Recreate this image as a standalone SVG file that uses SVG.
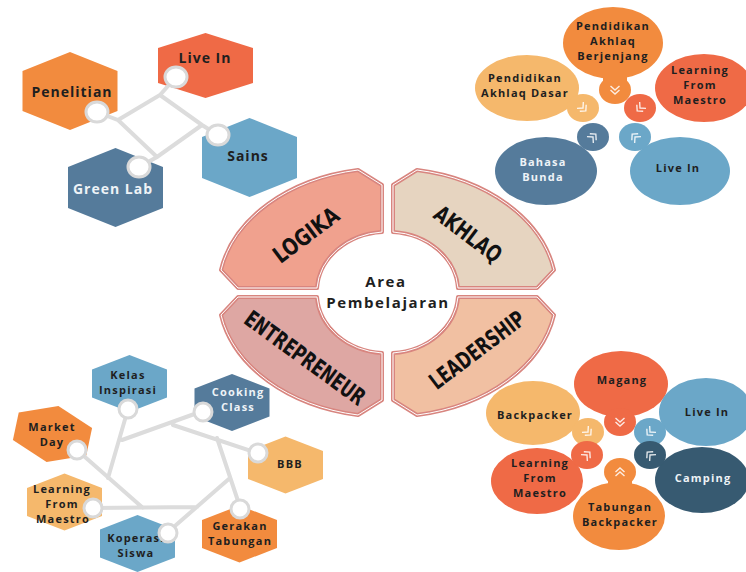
<svg xmlns="http://www.w3.org/2000/svg" width="746" height="572" viewBox="0 0 746 572">
<defs>
<style>
.lbl{font-family:"Open Sans","DejaVu Sans",sans-serif;font-weight:700;font-size:11px;letter-spacing:1.2px;fill:#1f1f1f;text-anchor:middle}
.lg{font-size:14px;letter-spacing:1px}
.w{fill:#EEF3F7}
.seg{stroke:#D8857F;stroke-width:4;stroke-linejoin:round}
.segi{fill:none;stroke:#fff;stroke-width:1;stroke-linejoin:round}
.big{font-family:"DejaVu Sans Condensed","DejaVu Sans",sans-serif;font-weight:700;font-size:23px;fill:#111;text-anchor:middle}
.ctr{font-family:"Open Sans","DejaVu Sans",sans-serif;font-weight:700;font-size:15px;letter-spacing:1.6px;fill:#1f1f1f;text-anchor:middle}
.ln{stroke:#DCDCDC;stroke-width:4;fill:none;stroke-linecap:round}
.ring{fill:#fff;stroke:#D9D9D9;stroke-width:3}
.chev{fill:none;stroke:#fff;stroke-width:1.4;opacity:.85}
.c1{fill:#F28B3E}.c2{fill:#EF6A46}.c3{fill:#F5B86C}.c4{fill:#6BA7C8}.c5{fill:#557B9B}.c6{fill:#375A71}
</style>
<path id="chv" d="M-4.5,-4 L0,0 L4.5,-4 M-4.5,0 L0,4 L4.5,0"/>
</defs>
<rect width="746" height="572" fill="#fff"/>

<!-- Top-left hex cluster -->
<g id="tl-penelitian"><polygon class="c1" points="70,52 117.5,71 117.5,111 70,130 22.5,111 22.5,71"/><text class="lbl lg" x="72" y="97">Penelitian</text></g>
<g id="tl-livein"><polygon class="c2" points="205.5,33 253,48 253,83 205.5,98 158,83 158,48"/><text class="lbl lg" x="205" y="63">Live In</text></g>
<g id="tl-sains"><polygon class="c4" points="249.5,118 297,137 297,178 249.5,197 202,178 202,137"/><text class="lbl lg" x="248" y="161">Sains</text></g>
<g id="tl-greenlab"><polygon class="c5" points="115.5,148 163,167 163,208 115.5,227 68,208 68,167"/><text class="lbl lg w" x="113" y="194">Green Lab</text></g>

<!-- Center -->
<g id="seg-logika">
<path class="seg" fill="#F0A18E" d="M238,288 L221,270 A168 123 0 0 1 358,170 L382,185 L382,232 A70 60 0 0 0 317,288 Z"/>
<path class="segi" d="M238,288 L221,270 A168 123 0 0 1 358,170 L382,185 L382,232 A70 60 0 0 0 317,288 Z"/>
<text class="big" transform="translate(306,235) rotate(-37)" y="8" textLength="76" lengthAdjust="spacingAndGlyphs">LOGIKA</text>
</g>
<g id="seg-akhlaq">
<path class="seg" fill="#E6D4C0" d="M537,288 L554,270 A168 123 0 0 0 417,170 L393,185 L393,232 A70 60 0 0 1 458,288 Z"/>
<path class="segi" d="M537,288 L554,270 A168 123 0 0 0 417,170 L393,185 L393,232 A70 60 0 0 1 458,288 Z"/>
<text class="big" transform="translate(468,234) rotate(37)" y="8" textLength="78" lengthAdjust="spacingAndGlyphs">AKHLAQ</text>
</g>
<g id="seg-entrepreneur">
<path class="seg" fill="#DEA7A3" d="M238,297 L221,315 A168 123 0 0 0 358,415 L382,400 L382,353 A70 60 0 0 1 317,297 Z"/>
<path class="segi" d="M238,297 L221,315 A168 123 0 0 0 358,415 L382,400 L382,353 A70 60 0 0 1 317,297 Z"/>
<text class="big" transform="translate(305,358) rotate(36)" y="8" textLength="143" lengthAdjust="spacingAndGlyphs">ENTREPRENEUR</text>
</g>
<g id="seg-leadership">
<path class="seg" fill="#F1C0A2" d="M537,297 L554,315 A168 123 0 0 1 417,415 L393,400 L393,353 A70 60 0 0 0 458,297 Z"/>
<path class="segi" d="M537,297 L554,315 A168 123 0 0 1 417,415 L393,400 L393,353 A70 60 0 0 0 458,297 Z"/>
<text class="big" transform="translate(477,350) rotate(-37)" y="8" textLength="113" lengthAdjust="spacingAndGlyphs">LEADERSHIP</text>
</g>
<g id="center-label"><text class="ctr" x="386" y="287">Area</text><text class="ctr" x="388" y="308">Pembelajaran</text></g>

<!-- Top-right bubbles -->
<g id="tr-berjenjang"><ellipse class="c1" cx="613" cy="43" rx="50" ry="36"/><ellipse class="c1" cx="615" cy="90" rx="16" ry="14"/><rect class="c1" x="603" y="70" width="24" height="14"/><use href="#chv" class="chev" transform="translate(615,90)"/>
<text class="lbl" x="613" y="30">Pendidikan</text><text class="lbl" x="613" y="45">Akhlaq</text><text class="lbl" x="613" y="60">Berjenjang</text></g>
<g id="tr-dasar"><ellipse class="c3" cx="527" cy="88" rx="52" ry="33"/><ellipse class="c3" cx="583" cy="108" rx="16" ry="14"/><use href="#chv" class="chev" transform="translate(583,108) rotate(-45)"/>
<text class="lbl" x="525" y="82">Pendidikan</text><text class="lbl" x="525" y="97">Akhlaq Dasar</text></g>
<g id="tr-maestro"><ellipse class="c2" cx="704" cy="88" rx="49" ry="34"/><ellipse class="c2" cx="640" cy="108" rx="16" ry="14"/><use href="#chv" class="chev" transform="translate(640,108) rotate(45)"/>
<text class="lbl" x="700" y="74">Learning</text><text class="lbl" x="700" y="89">From</text><text class="lbl" x="700" y="104">Maestro</text></g>
<g id="tr-bahasa"><ellipse class="c5" cx="546" cy="171" rx="51" ry="34"/><ellipse class="c5" cx="593" cy="137" rx="16" ry="14"/><use href="#chv" class="chev" transform="translate(593,137) rotate(-135)"/>
<text class="lbl w" x="543" y="166">Bahasa</text><text class="lbl w" x="543" y="181">Bunda</text></g>
<g id="tr-livein"><ellipse class="c4" cx="680" cy="171" rx="50" ry="34"/><ellipse class="c4" cx="635" cy="137" rx="16" ry="14"/><use href="#chv" class="chev" transform="translate(635,137) rotate(135)"/>
<text class="lbl" x="678" y="172">Live In</text></g>

<!-- Bottom-left hexes -->
<g id="bl-kelas"><polygon class="c4" points="129.5,355 167,369.5 167,397.5 129.5,412 92,397.5 92,369.5"/><text class="lbl" x="128" y="379">Kelas</text><text class="lbl" x="128" y="394">Inspirasi</text></g>
<g id="bl-cooking"><polygon class="c5" points="232,374 269.5,388.5 269.5,416.5 232,431 194.5,416.5 194.5,388.5"/><text class="lbl w" x="238" y="396">Cooking</text><text class="lbl w" x="238" y="411">Class</text></g>
<g id="bl-market"><polygon class="c1" transform="rotate(12 52.5 434)" points="52.5,405.5 90,420 90,448 52.5,462.5 15,448 15,420"/><text class="lbl" x="52" y="431">Market</text><text class="lbl" x="52" y="446">Day</text></g>
<g id="bl-learning"><polygon class="c3" points="64.5,473.5 102,488 102,516 64.5,530.5 27,516 27,488"/><text class="lbl" x="62" y="493">Learning</text><text class="lbl" x="62" y="508">From</text><text class="lbl" x="63" y="523">Maestro</text></g>
<g id="bl-bbb"><polygon class="c3" points="285.5,436.5 323,451 323,479 285.5,493.5 248,479 248,451"/><text class="lbl" x="290" y="468">BBB</text></g>
<g id="bl-gerakan"><polygon class="c1" points="239.5,505.5 277,520 277,548 239.5,562.5 202,548 202,520"/><text class="lbl" x="240" y="530">Gerakan</text><text class="lbl" x="240" y="545">Tabungan</text></g>
<g id="bl-koperasi"><polygon class="c4" points="137.5,515 175,529.5 175,557.5 137.5,572 100,557.5 100,529.5"/><text class="lbl" x="136" y="542">Koperasi</text><text class="lbl" x="136" y="557">Siswa</text></g>

<!-- Bottom-right bubbles -->
<g id="br-magang"><ellipse class="c2" cx="621" cy="384" rx="47" ry="33"/><ellipse class="c2" cx="620" cy="422" rx="16" ry="14"/><use href="#chv" class="chev" transform="translate(620,422)"/><text class="lbl" x="622" y="384">Magang</text></g>
<g id="br-backpacker"><ellipse class="c3" cx="533" cy="413" rx="47" ry="32"/><ellipse class="c3" cx="588" cy="432" rx="16" ry="14"/><use href="#chv" class="chev" transform="translate(588,432) rotate(-45)"/><text class="lbl" x="535" y="419">Backpacker</text></g>
<g id="br-livein"><ellipse class="c4" cx="706" cy="412" rx="47" ry="34"/><ellipse class="c4" cx="650" cy="432" rx="16" ry="14"/><use href="#chv" class="chev" transform="translate(650,432) rotate(45)"/><text class="lbl" x="707" y="416">Live In</text></g>
<g id="br-learning"><ellipse class="c2" cx="537" cy="481" rx="46" ry="33"/><ellipse class="c2" cx="587" cy="455" rx="16" ry="14"/><use href="#chv" class="chev" transform="translate(587,455) rotate(-135)"/><text class="lbl" x="540" y="467">Learning</text><text class="lbl" x="540" y="482">From</text><text class="lbl" x="540" y="497">Maestro</text></g>
<g id="br-camping"><ellipse class="c6" cx="702" cy="480" rx="47" ry="33"/><ellipse class="c6" cx="650" cy="455" rx="16" ry="14"/><use href="#chv" class="chev" transform="translate(650,455) rotate(135)"/><text class="lbl w" x="703" y="482">Camping</text></g>
<g id="br-tabungan"><ellipse class="c1" cx="619" cy="516" rx="46" ry="34"/><ellipse class="c1" cx="620" cy="472" rx="16" ry="14"/><rect class="c1" x="608" y="476" width="24" height="14"/><use href="#chv" class="chev" transform="translate(620,472) rotate(180)"/><text class="lbl" x="620" y="511">Tabungan</text><text class="lbl" x="620" y="526">Backpacker</text></g>

<!-- Connectors -->
<g id="connectors">
<path class="ln" d="M97,112 L118,120 L160,95 L176,77 M160,95 L202,125 L218,135 M202,125 L157,157 L139,167 M157,157 L118,120"/>
<ellipse class="ring" cx="97" cy="112" rx="11" ry="10"/>
<ellipse class="ring" cx="176" cy="77" rx="11" ry="10"/>
<ellipse class="ring" cx="218" cy="135" rx="11" ry="10"/>
<ellipse class="ring" cx="139" cy="167" rx="11" ry="10"/>
<path class="ln" d="M128,409 L108,478 M200,412 L122,440 M173,425 L257,453 M217,438 L240,507 M230,478 L168,532 M197,507 L92,508 M77,450 L143,508"/>
<circle class="ring" cx="128" cy="409" r="9"/>
<circle class="ring" cx="203" cy="412" r="9"/>
<circle class="ring" cx="258" cy="453" r="9"/>
<circle class="ring" cx="240" cy="509" r="9"/>
<circle class="ring" cx="168" cy="533" r="9"/>
<circle class="ring" cx="93" cy="508" r="9"/>
<circle class="ring" cx="77" cy="450" r="9"/>
</g>
</svg>
